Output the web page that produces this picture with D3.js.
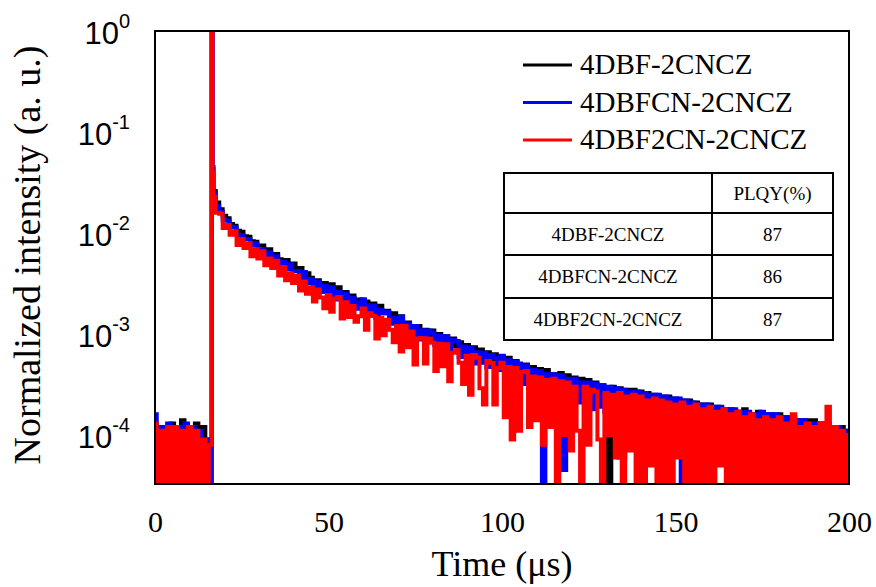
<!DOCTYPE html>
<html>
<head>
<meta charset="utf-8">
<script src="https://cdn.jsdelivr.net/npm/d3@7"></script>
<style>
  body { margin: 0; background: #fff; }
  .serif { font-family: "Liberation Serif", "Times New Roman", serif; fill: #000; }
  .sans { font-family: "Liberation Sans", Arial, sans-serif; fill: #000; }
</style>
</head>
<body>
<div class="App"></div>
<script>
// ---- data ----
const seriesNames = ["4DBF-2CNCZ", "4DBFCN-2CNCZ", "4DBF2CN-2CNCZ"];
const seriesColors = ["#000000", "#0000ff", "#ff0000"];
const plqyHeader = "PLQY(%)";
const plqyValues = [87, 86, 87];
const xTicks = [0, 50, 100, 150, 200];
const yTickExponents = [0, -1, -2, -3, -4];

// time bins (us)
const preTimes = d3.range(0, 17);
const peakTimes = [16.2, 16.45, 16.7];
const decayTimes = d3.range(17, 201);

// normalized intensity, 0 = empty bin (below the axis)
const blackPre = [1.3e-4, 1.1e-4, 0, 1.2e-4, 0, 1.3e-4, 1.1e-4, 0, 1.4e-4, 0, 1.2e-4, 0, 1.3e-4, 0, 1.2e-4, 0, 9e-5];
const bluePre = [1.6e-4, 0, 1.2e-4, 0, 1.3e-4, 0, 1.2e-4, 1.2e-4, 0, 1.3e-4, 0, 1.2e-4, 0, 1.1e-4, 0, 9e-5, 9e-5];
const redPre = [1.3e-4, 0, 1.1e-4, 0, 1.2e-4, 0, 1.2e-4, 0, 1.1e-4, 0, 1.2e-4, 0, 1.1e-4, 0, 9e-5, 0, 8e-5];

const blackPeak = [0, 1.1, 0.045];
const bluePeak = [0, 1.1, 0.043];
const redPeak = [8e-5, 1.1, 0.04];

const blackDecay = [
  0.026, 0.020, 0.0172, 0.0148, 0.0140, 0.0123, 0.0118, 0.0105, 0.0103, 0.0093,
  0.0092, 0.0083, 0.0082, 0.0075, 0.0075, 0.0068, 0.0069, 0.0061, 0.0062, 0.0055,
  0.0052, 0.0054, 0.0047, 0.0050, 0.0043, 0.0045, 0.0038, 0.0040, 0.0036, 0.0033,
  0.0034, 0.0030, 0.0032, 0.0028, 0.0031, 0.0026, 0.0029, 0.0025, 0.0026, 0.0023,
  0.0024, 0.0021, 0.0022, 0.0019, 0.0021, 0.0018, 0.0020, 0.0017, 0.0019, 0.0016,
  0.0017, 0.0015, 0.0016, 0.0014, 0.0015, 0.0012, 0.0013, 0.0012, 0.0011, 0.0012,
  0.0010, 0.0011, 0.00095, 0.00108, 0.00088, 0.0010, 0.00085, 0.00095, 0.0008, 0.0009,
  0.00075, 0.00083, 0.0007, 0.00078, 0.00065, 0.00074, 0.0006, 0.0007, 0.00062, 0.00066,
  0.00056, 0.00063, 0.0005, 0.0006, 0.00052, 0.00058, 0.00045, 0.00054, 0.00048, 0.00044,
  0.0005, 0.0004, 0.00047, 0.00038, 0.00045, 0.00036, 0.00044, 0.00033, 0.0004, 0.00035,
  0.00041, 0.0003, 0.00039, 0.00028, 0.00037, 0.00031, 0.00036, 0.00026, 0.00035, 0.00029,
  0.00033, 0.00024, 0.00031, 0.00022, 0, 0.0003, 0.00021, 0.00029, 6e-5, 0.00028,
  0.00022, 0.00028, 8e-5, 0.00027, 0.0002, 0.00026, 0.00017, 0.00025, 0.00019, 0.00024,
  0.00018, 0.00024, 0.00016, 0.00023, 0.00015, 0.00022, 0.00017, 0.00022, 0.00014, 0.00021,
  0.00015, 0.0002, 0.00013, 0.0002, 0.00014, 0.00019, 0.00012, 0.00018, 0.00013, 0.00018,
  0.00012, 0.00017, 0.00011, 0.00018, 0.00012, 0.00016, 0.0001, 0.00017, 0.00011, 0.00016,
  0.0001, 0.00016, 9e-5, 0.00016, 0.0001, 0.00015, 9e-5, 0.00015, 0.0001, 0.00014,
  9e-5, 0.00014, 8e-5, 0.00014, 9e-5, 0.00013, 8e-5, 0.00013, 9e-5, 0.00012,
  8e-5, 0.00012, 7e-5, 0.00011
];

const blueDecay = [
  0.025, 0.0186, 0.0162, 0.0135, 0.0132, 0.0115, 0.0114, 0.0096, 0.0095, 0.0087,
  0.0087, 0.0075, 0.0079, 0.0069, 0.0069, 0.006, 0.0064, 0.0057, 0.0059, 0.005,
  0.0052, 0.0044, 0.0049, 0.0042, 0.0042, 0.0035, 0.0041, 0.0032, 0.0035, 0.0029,
  0.0033, 0.0026, 0.003, 0.0026, 0.0029, 0.0022, 0.0026, 0.0022, 0.0025, 0.002,
  0.00227, 0.00205, 0.00178, 0.00221, 0.00192, 0.00158, 0.00191, 0.00143, 0.00174, 0.0016,
  0.00166, 0.00126, 0.00144, 0.00121, 0.00148, 0.00104, 0.00127, 0.00102, 0.0012, 0.00088,
  0.00109, 0.00087, 0.00108, 0.00102, 0.00078, 0.00096, 0.00079, 0.00095, 0.00067, 0.00087,
  0.00085, 0.00059, 0.00075, 0.00059, 0.00073, 0.00051, 0.00066, 0.00052, 0.00065, 0.00047,
  0.00062, 0.00058, 0.00044, 0.00061, 0.00044, 0.00055, 0.00038, 0.00053, 0.00051, 0.00032,
  0.00049, 0.00033, 0.00044, 0.00028, 0.00043, 0, 0.0004, 0.00027, 0.0004, 0.00023,
  0.00039, 4.5e-5, 0.00036, 0.00023, 0.00036, 0.00021, 0.00033, 0.00022, 0.00033, 0.00018,
  0.00032, 0.00019, 0.00031, 0.00017, 0.0003, 0.00016, 0.00029, 6e-5, 0.00028, 0.00017,
  0.00027, 0.00015, 0.00027, 0.00014, 0.00026, 0.00013, 0.00025, 0.00015, 0.00025, 0.00012,
  0.00024, 0.00013, 0.00023, 0.00012, 0.00023, 0, 0.00022, 0.00011, 0.00021, 0.00012,
  0.0002, 0.00011, 0.0002, 0, 0.00019, 0.0001, 0.00019, 0.00011, 0.00018, 9e-5,
  0.00018, 0.0001, 0.00017, 9e-5, 0.00017, 0.0001, 0.00016, 8e-5, 0.00017, 9e-5,
  0.00016, 8e-5, 0.00016, 9e-5, 0.00015, 7e-5, 0.00015, 8e-5, 0.00014, 7e-5,
  0.00014, 8e-5, 0.00013, 6e-5, 0.00013, 7e-5, 0.00013, 6e-5, 0.00012, 7e-5,
  0.00012, 6e-5, 0.00011, 9e-5
];

const redDecay = [
  0.0229, 0.0159, 0.0155, 0.0112, 0.012, 0.0096, 0.0104, 0.0076, 0.0087, 0.0071,
  0.0079, 0.0059, 0.0069, 0.0056, 0.0066, 0.0048, 0.0056, 0.0045, 0.0053, 0.0038,
  0.0046, 0.0034, 0.004, 0.0032, 0.0038, 0.0027, 0.0033, 0.0025, 0.0029, 0.0021,
  0.00276, 0.0023, 0.0018, 0.00243, 0.00166, 0.00224, 0.00232, 0.00142, 0.00206, 0.00147,
  0.00189, 0.00132, 0.0015, 0.00179, 0.0011, 0.0016, 0.00151, 0.0009, 0.00144, 0.00097,
  0.00138, 0.0011, 0.00083, 0.0012, 0.00067, 0.0012, 0.00074, 0.00106, 0.0005, 0.0009,
  0.00091, 0.00051, 0.0009, 0.00082, 0.00043, 0.0008, 0.00048, 0.00079, 0.00034, 0.00065,
  0.00069, 0.00052, 0.00032, 0.00061, 0.00025, 0.00062, 0.00058, 0.00029, 0.0002, 0.00054,
  0.00052, 0.0002, 0.00046, 0.00052, 0.00015, 0.00047, 9e-5, 0.00046, 0.00011, 0.00042,
  0.00043, 0.00012, 0.00038, 0.00014, 0.00037, 8e-5, 0.00035, 0.00012, 0.00036, 0,
  0.00034, 0.0001, 0.00033, 7e-5, 0.0003, 0.00011, 0, 0.0003, 8e-5, 0.00028,
  0.00027, 9e-5, 0, 0.00026, 0.0001, 0.00025, 6e-5, 0.00026, 0, 0.00024,
  7e-5, 0.00025, 0, 0.00024, 0, 0.00022, 5e-5, 0.00023, 0, 0.00022,
  0, 0.00021, 0, 0.0002, 6e-5, 0.00021, 0, 0.00019, 0, 0.0002,
  0, 0.00018, 0, 0.00019, 0, 0.00017, 5e-5, 0.00018, 0, 0.00016,
  0, 0.00017, 0, 0.00015, 0, 0.00016, 0, 0.00014, 0, 0.00015,
  0, 0.00014, 0, 0.00015, 0, 0.00013, 0, 0.00016, 0, 0.00012,
  0, 0.00013, 0, 0.00012, 0, 0.00013, 0, 0.00019, 0, 0.00012,
  0, 0.00011, 0, 0.0001
];

// ---- layout ----
const w = 876;
const h = 587;
const plot = { left: 155, top: 31, right: 849, bottom: 484 };
const yMin = 3.27e-5;

const times = preTimes.concat(peakTimes, decayTimes);
const series = [
  blackPre.concat(blackPeak, blackDecay),
  bluePre.concat(bluePeak, blueDecay),
  redPre.concat(redPeak, redDecay)
];

const xScale = d3.scaleLinear().domain([0, 200]).range([plot.left, plot.right]);
const yScale = d3.scaleLog().domain([yMin, 1]).range([plot.bottom, plot.top]);

const svg = d3.select(".App").append("svg")
  .attr("width", w)
  .attr("height", h);

svg.append("defs").append("clipPath")
  .attr("id", "plot-clip")
  .append("rect")
  .attr("x", plot.left)
  .attr("y", plot.top)
  .attr("width", plot.right - plot.left)
  .attr("height", plot.bottom - plot.top);

// empty bins are pushed below the axis and clipped
// step curve = histogram look of the photon counting bins
const line = d3.line()
  .curve(d3.curveStep)
  .x((d, i) => xScale(times[i]))
  .y(d => yScale(Math.max(d, 1.5e-5)));

svg.append("g")
  .attr("clip-path", "url(#plot-clip)")
  .selectAll("path")
  .data(series)
  .enter()
  .append("path")
  .attr("d", d => line(d))
  .attr("fill", "none")
  .attr("stroke", (d, i) => seriesColors[i])
  .attr("stroke-width", 4);

// frame
svg.append("rect")
  .attr("x", plot.left)
  .attr("y", plot.top)
  .attr("width", plot.right - plot.left)
  .attr("height", plot.bottom - plot.top)
  .attr("fill", "none")
  .attr("stroke", "#000")
  .attr("stroke-width", 2);

// x axis labels
const xAxis = d3.axisBottom(xScale)
  .tickValues(xTicks)
  .tickSize(0)
  .tickPadding(27);
const gx = svg.append("g")
  .attr("transform", `translate(0,${plot.bottom})`)
  .call(xAxis);
gx.select(".domain").remove();
gx.selectAll("text")
  .attr("class", "serif")
  .style("font-size", "30px")
  .attr("fill", "#000");

// y axis labels, 10^n
const yLabels = svg.append("g").selectAll("text")
  .data(yTickExponents)
  .enter()
  .append("text")
  .attr("class", "sans")
  .attr("text-anchor", "end")
  .attr("x", 130)
  .attr("y", d => yScale(Math.pow(10, d)) + 13);
yLabels.append("tspan")
  .style("font-size", "31px")
  .text("10");
yLabels.append("tspan")
  .style("font-size", "20px")
  .attr("dy", -16)
  .text(d => d);

// axis titles
svg.append("text")
  .attr("class", "serif")
  .attr("x", 502)
  .attr("y", 576)
  .attr("text-anchor", "middle")
  .style("font-size", "36px")
  .text("Time (\u03bcs)");

svg.append("text")
  .attr("class", "serif")
  .attr("transform", "translate(40,255) rotate(-90)")
  .attr("text-anchor", "middle")
  .style("font-size", "38px")
  .text("Normalized intensity (a. u.)");

// legend
const legend = svg.append("g").selectAll("g")
  .data(seriesNames)
  .enter()
  .append("g")
  .attr("transform", (d, i) => `translate(0,${65 + i * 37.5})`);
legend.append("line")
  .attr("x1", 523)
  .attr("x2", 572)
  .attr("stroke", (d, i) => seriesColors[i])
  .attr("stroke-width", 3);
legend.append("text")
  .attr("class", "serif")
  .attr("x", 580)
  .attr("y", 9)
  .style("font-size", "29px")
  .text(d => d);

// PLQY table
const table = { left: 504, right: 833, mid: 712, rows: [173, 213, 255, 298, 340] };
const tg = svg.append("g");
tg.append("rect")
  .attr("x", table.left)
  .attr("y", table.rows[0])
  .attr("width", table.right - table.left)
  .attr("height", table.rows[4] - table.rows[0])
  .attr("fill", "#fff")
  .attr("stroke", "#000")
  .attr("stroke-width", 2);
tg.append("line")
  .attr("x1", table.mid).attr("x2", table.mid)
  .attr("y1", table.rows[0]).attr("y2", table.rows[4])
  .attr("stroke", "#000").attr("stroke-width", 2);
tg.selectAll(".row-line")
  .data(table.rows.slice(1, 4))
  .enter()
  .append("line")
  .attr("x1", table.left).attr("x2", table.right)
  .attr("y1", d => d).attr("y2", d => d)
  .attr("stroke", "#000").attr("stroke-width", 2);

const rowCenter = i => (table.rows[i] + table.rows[i + 1]) / 2;
tg.append("text")
  .attr("class", "serif")
  .attr("x", (table.mid + table.right) / 2)
  .attr("y", rowCenter(0) + 6.5)
  .attr("text-anchor", "middle")
  .style("font-size", "19px")
  .text(plqyHeader);
seriesNames.forEach((name, i) => {
  tg.append("text")
    .attr("class", "serif")
    .attr("x", (table.left + table.mid) / 2)
    .attr("y", rowCenter(i + 1) + 6.5)
    .attr("text-anchor", "middle")
    .style("font-size", "19px")
    .text(name);
  tg.append("text")
    .attr("class", "serif")
    .attr("x", (table.mid + table.right) / 2)
    .attr("y", rowCenter(i + 1) + 6.5)
    .attr("text-anchor", "middle")
    .style("font-size", "19px")
    .text(plqyValues[i]);
});
</script>
</body>
</html>
